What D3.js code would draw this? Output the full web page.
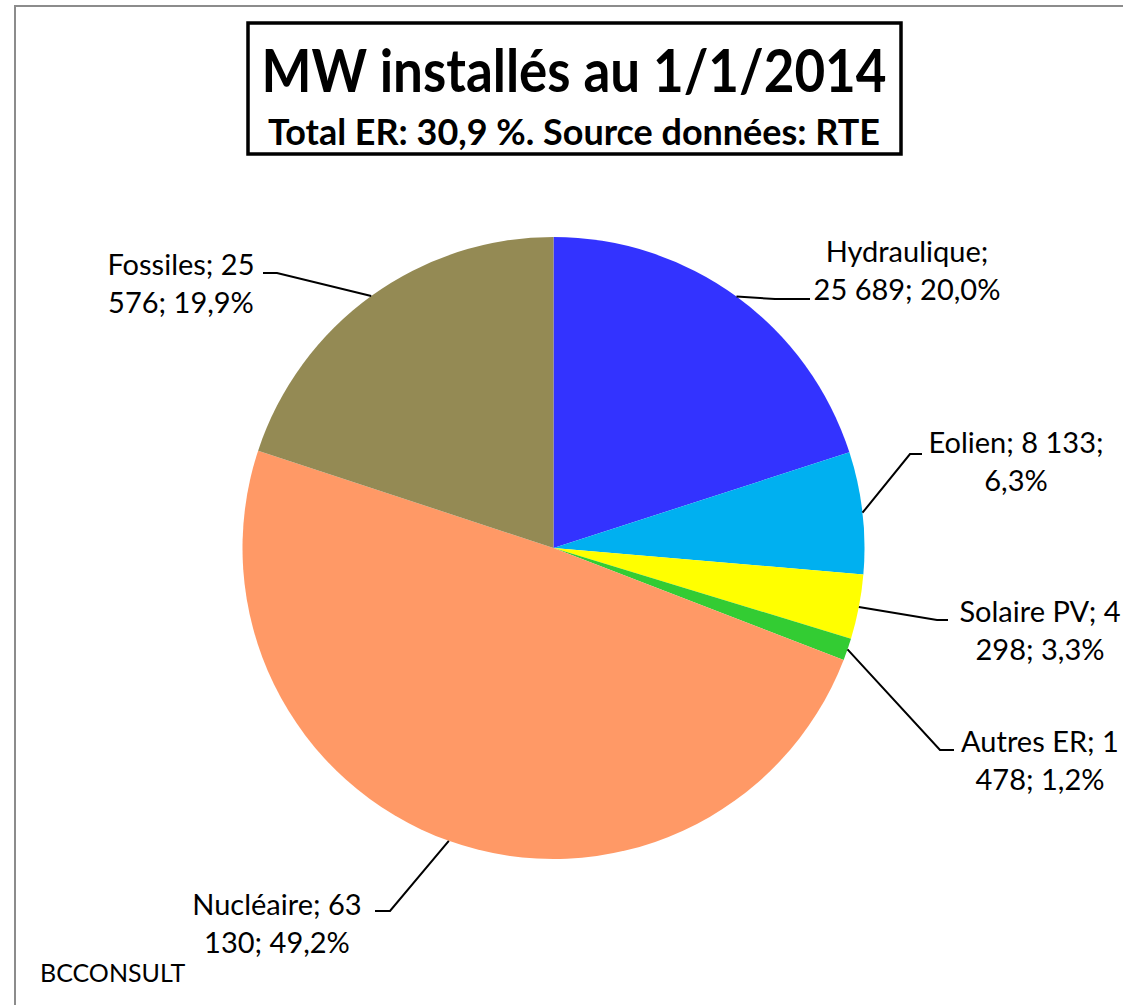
<!DOCTYPE html>
<html>
<head>
<meta charset="utf-8">
<script src="https://cdn.jsdelivr.net/npm/d3@7"></script>
<style>
  body { margin: 0; background: #fff; }
  svg { display: block; font-family: Lato, "Open Sans", sans-serif; }
</style>
</head>
<body>
<svg id="chart" width="1123" height="1005"></svg>
<script>
const categories = ["Hydraulique", "Eolien", "Solaire PV", "Autres ER", "Nucléaire", "Fossiles"];
const values = [25689, 8133, 4298, 1478, 63130, 25576];
const colors = ["#3333FF", "#00B0F0", "#FFFF00", "#33CC33", "#FF9966", "#948A54"];

const title = "MW installés au 1/1/2014";
const subtitle = "Total ER: 30,9 %. Source données: RTE";
const credit = "BCCONSULT";

// where each label sits and where its text wraps (chars on first line)
const labelLayout = [
  { x: 907, y: 262, brk: 12, kink: [775, 299], end: [810, 299] },
  { x: 1016, y: 453, brk: 14, kink: [910, 454], end: [922, 454] },
  { x: 1040, y: 622, brk: 13, kink: [937, 620], end: [948, 620] },
  { x: 1040, y: 752, brk: 12, kink: [940, 750], end: [954, 750] },
  { x: 277, y: 915, brk: 13, kink: [390, 911], end: [375, 911] },
  { x: 181, y: 275, brk: 12, kink: [277, 273], end: [263, 273] }
];

const fr = d3.formatLocale({ decimal: ",", thousands: " ", grouping: [3], currency: ["", " €"] });
const fmtNum = fr.format(",.0f");
const fmtPct = fr.format(".1f");

const svg = d3.select("#chart");
const cx = 553.5, cy = 548, r = 311;

// outer frame
svg.append("rect")
  .attr("x", 15).attr("y", 6)
  .attr("width", 1200).attr("height", 1100)
  .attr("fill", "none")
  .attr("stroke", "#8c8c8c")
  .attr("stroke-width", 2);

// title box
svg.append("rect")
  .attr("x", 248).attr("y", 23)
  .attr("width", 653).attr("height", 131)
  .attr("fill", "#fff")
  .attr("stroke", "#000")
  .attr("stroke-width", 3.5);

svg.append("text")
  .attr("x", 574).attr("y", 92)
  .attr("text-anchor", "middle")
  .attr("font-weight", "bold")
  .attr("font-size", 59)
  .attr("textLength", 625)
  .attr("lengthAdjust", "spacingAndGlyphs")
  .text(title);

svg.append("text")
  .attr("x", 574).attr("y", 145)
  .attr("text-anchor", "middle")
  .attr("font-weight", "bold")
  .attr("font-size", 37)
  .attr("textLength", 612)
  .attr("lengthAdjust", "spacingAndGlyphs")
  .text(subtitle);

const total = d3.sum(values);
const data = categories.map((c, i) => ({ name: c, value: values[i], color: colors[i], lay: labelLayout[i] }));

const pie = d3.pie().sort(null).value((d) => d.value);
const arc = d3.arc().innerRadius(0).outerRadius(r);
const edge = d3.arc().innerRadius(r).outerRadius(r);

const g = svg.append("g").attr("transform", `translate(${cx},${cy})`);
const arcs = pie(data);

g.selectAll(".slice")
  .data(arcs)
  .enter()
  .append("path")
  .attr("class", "slice")
  .attr("d", arc)
  .attr("fill", (d) => d.data.color);

// leader lines
svg.selectAll(".leader")
  .data(arcs)
  .enter()
  .append("polyline")
  .attr("class", "leader")
  .attr("fill", "none")
  .attr("stroke", "#000")
  .attr("stroke-width", 2)
  .attr("points", (d) => {
    const p = edge.centroid(d);
    const l = d.data.lay;
    return [[p[0] + cx, p[1] + cy], l.kink, l.end].map((q) => q.join(",")).join(" ");
  });

// labels
const lbl = svg.selectAll(".lbl")
  .data(arcs)
  .enter()
  .append("text")
  .attr("class", "lbl")
  .attr("text-anchor", "middle")
  .attr("font-size", 29)
  .attr("fill", "#000");

lbl.each(function (d) {
  const full = d.data.name + "; " + fmtNum(d.data.value) + "; " + fmtPct((d.data.value / total) * 100) + "%";
  const l = d.data.lay;
  const lines = [full.slice(0, l.brk).trim(), full.slice(l.brk).trim()];
  d3.select(this)
    .selectAll("tspan")
    .data(lines)
    .enter()
    .append("tspan")
    .attr("x", l.x)
    .attr("y", (t, i) => l.y + i * 38)
    .text((t) => t);
});

svg.append("text")
  .attr("x", 40).attr("y", 982)
  .attr("font-size", 25)
  .text(credit);
</script>
</body>
</html>
